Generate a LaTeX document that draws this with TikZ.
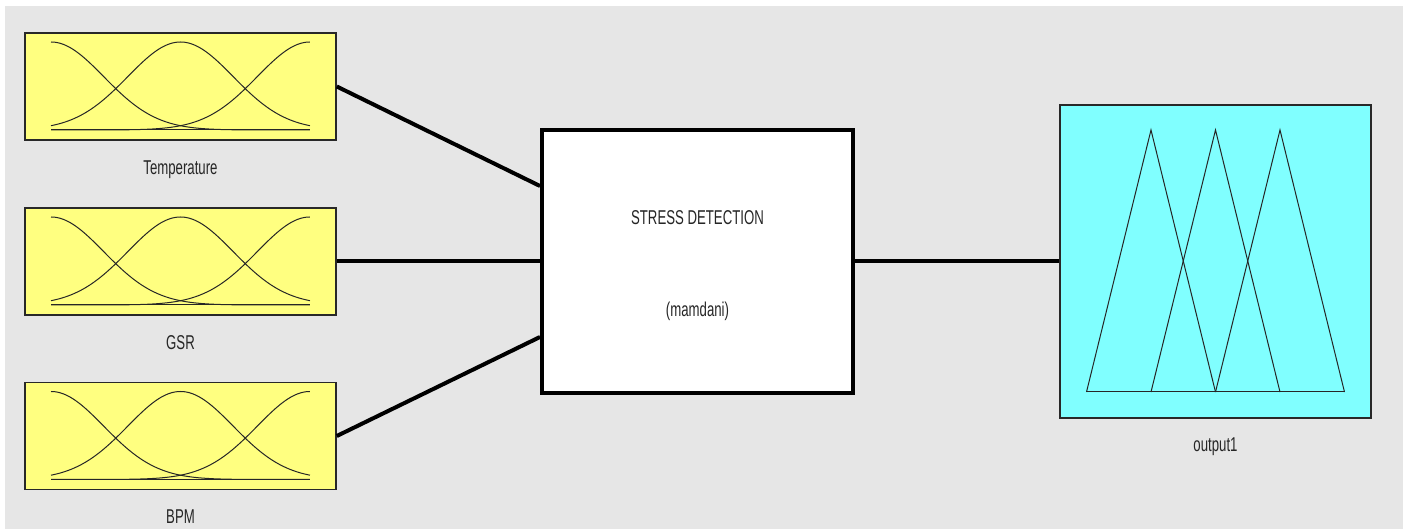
\documentclass[tikz,border=0pt]{standalone}
\usepackage{fontspec}
\setmainfont[FakeStretch=0.66]{Liberation Sans}
\usepackage{tikz}
\usetikzlibrary{positioning}
\definecolor{bggray}{RGB}{230,230,230}
\definecolor{mfyellow}{RGB}{255,255,128}
\definecolor{mfcyan}{RGB}{128,255,255}
\definecolor{framegray}{RGB}{40,40,40}

\begin{document}
\begin{tikzpicture}[
        x=0.5pt, y=-0.5pt,
        font=\fontsize{10pt}{12pt}\selectfont,
        inbox/.style={draw=framegray, line width=0.8pt, fill=mfyellow, inner sep=0pt,
                      minimum width=155.5pt, minimum height=53.5pt},
        outbox/.style={inbox, fill=mfcyan, minimum height=156.5pt},
        fisbox/.style={draw=black, line width=2pt, fill=white, inner sep=0pt,
                       minimum width=155.5pt, minimum height=131.5pt},
        varname/.style={text=black!85, inner sep=0pt, text height=7pt, text depth=0pt},
        link/.style={line width=2pt, black},
        mf/.style={line width=0.5pt, black!85}
    ]
    \useasboundingbox (0,0) rectangle (1405,529);
    \fill[white] (0,0) rectangle (1405,529);
    \fill[bggray] (5,6) rectangle (1403,529);

    % inputs with gaussian membership functions
    \foreach \name/\yc/\vname in {temp/86.5/Temperature, gsr/261.5/GSR, bpm/436/BPM} {
        \node[inbox] (\name) at (180.5,\yc) {};
        \node[varname, below=9.5pt of \name] (\name-label) {\vname};
        \begin{scope}[shift={(\name.center)}]
            \draw[mf] (-129.5,43.5) -- (129.5,43.5);
            \foreach \c in {0,1,2}
                \draw[mf] plot[domain=0:2, samples=61, smooth]
                    ({-129.5+129.5*\x}, {43.5-88*exp(-(\x-\c)^2/0.331)});
        \end{scope}
    }

    % fuzzy inference system
    \node[fisbox] (fis) at (697.5,261.5) {};
    \node[varname] (fis-title) at (697.5,218) {STRESS DETECTION};
    \node[varname] (fis-type) at (697.5,310) {(mamdani)};

    % output with triangular membership functions
    \node[outbox] (outmf) at (1215.5,261.5) {};
    \node[varname, below=9pt of outmf] (outmf-label) {output1};
    \begin{scope}[shift={(outmf.center)}]
        \draw[mf] (-129.5,130.5) -- (129.5,130.5);
        \foreach \p in {-64.5,0,64.5}
            \draw[mf] (\p-64.5,130.5) -- (\p,-131.5) -- (\p+64.5,130.5);
    \end{scope}

    \draw[link] (temp.east) -- ([yshift=37.75pt]fis.west);
    \draw[link] (gsr.east) -- (fis.west);
    \draw[link] (bpm.east) -- ([yshift=-37.75pt]fis.west);
    \draw[link] (fis.east) -- (outmf.west);
\end{tikzpicture}
\end{document}
